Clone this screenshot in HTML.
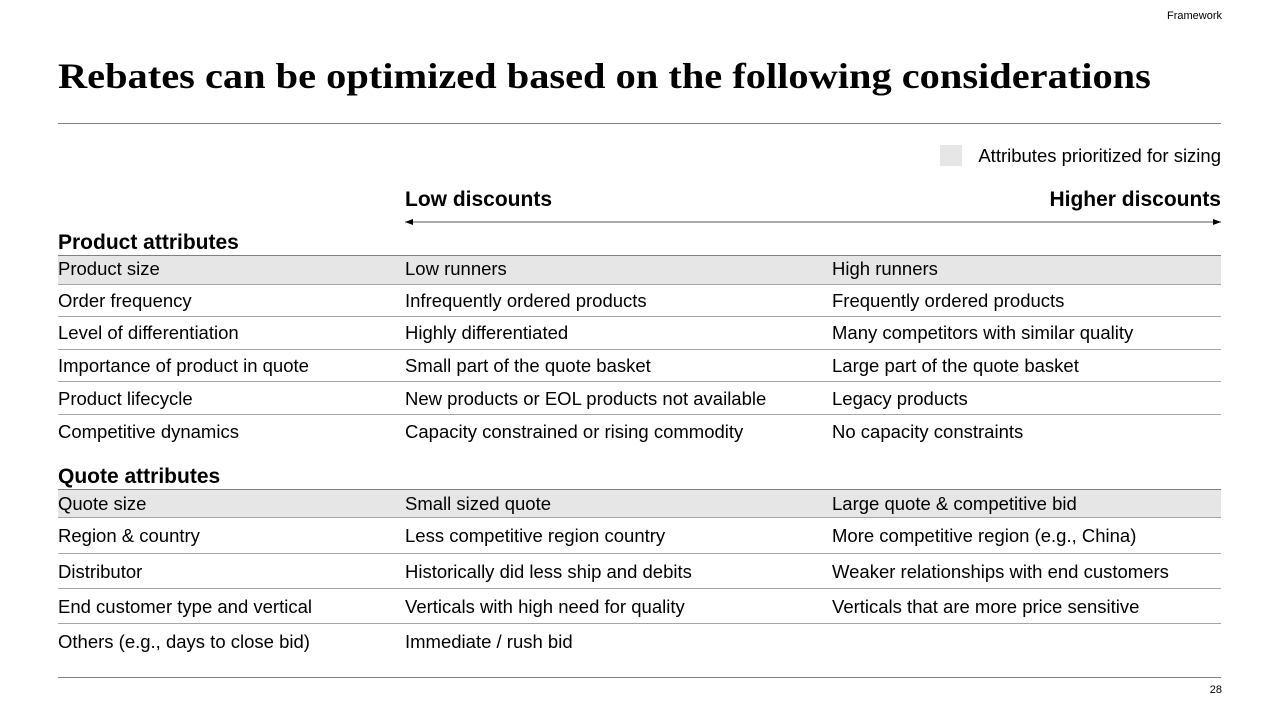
<!DOCTYPE html>
<html><head><meta charset="utf-8"><style>
body{margin:0;width:1280px;height:720px;background:#fff;position:relative;overflow:hidden;font-family:"Liberation Sans",sans-serif;color:#000}
.a{position:absolute;white-space:nowrap}
.t{font-size:18.5px;line-height:20px}
.h{font-size:21px;font-weight:bold;line-height:22px}
.ln{position:absolute;left:58px;width:1163px;height:1px;background:#a6a6a6}
.sh{position:absolute;left:58px;width:1163px;background:#e6e6e6}
</style></head><body>
<div class="a" style="right:58px;top:10px;font-size:11px">Framework</div>
<div class="a" style="left:58px;top:54px;font-family:'Liberation Serif',serif;font-weight:bold;font-size:36px;line-height:44px;transform:scaleX(1.122);transform-origin:0 0">Rebates can be optimized based on the following considerations</div>
<div class="ln" style="top:123px;background:#808080"></div>
<div class="a" style="left:940px;top:145px;width:22px;height:21px;background:#e6e6e6"></div>
<div class="a t" style="right:59px;top:146px">Attributes prioritized for sizing</div>
<div class="a h" style="left:405px;top:189px">Low discounts</div>
<div class="a h" style="right:59px;top:189px">Higher discounts</div>
<svg class="a" style="left:400px;top:215px" width="826" height="14"><line x1="5" y1="7" x2="821" y2="7" stroke="#555" stroke-width="1"/><polygon points="5,7 13,4 13,10" fill="#000"/><polygon points="821,7 813,4 813,10" fill="#000"/></svg>

<div class="a h" style="left:58px;top:232px">Product attributes</div>
<div class="sh" style="top:256px;height:28px"></div>
<div class="ln" style="top:255px;background:#808080"></div>
<div class="ln" style="top:284px"></div><div class="ln" style="top:316px"></div><div class="ln" style="top:349px"></div><div class="ln" style="top:381px"></div><div class="ln" style="top:414px"></div>
<div class="a t" style="left:58px;top:259px">Product size</div><div class="a t" style="left:405px;top:259px">Low runners</div><div class="a t" style="left:832px;top:259px">High runners</div>
<div class="a t" style="left:58px;top:291px">Order frequency</div><div class="a t" style="left:405px;top:291px">Infrequently ordered products</div><div class="a t" style="left:832px;top:291px">Frequently ordered products</div>
<div class="a t" style="left:58px;top:323px">Level of differentiation</div><div class="a t" style="left:405px;top:323px">Highly differentiated</div><div class="a t" style="left:832px;top:323px">Many competitors with similar quality</div>
<div class="a t" style="left:58px;top:356px">Importance of product in quote</div><div class="a t" style="left:405px;top:356px">Small part of the quote basket</div><div class="a t" style="left:832px;top:356px">Large part of the quote basket</div>
<div class="a t" style="left:58px;top:389px">Product lifecycle</div><div class="a t" style="left:405px;top:389px">New products or EOL products not available</div><div class="a t" style="left:832px;top:389px">Legacy products</div>
<div class="a t" style="left:58px;top:422px">Competitive dynamics</div><div class="a t" style="left:405px;top:422px">Capacity constrained or rising commodity</div><div class="a t" style="left:832px;top:422px">No capacity constraints</div>

<div class="a h" style="left:58px;top:466px">Quote attributes</div>
<div class="sh" style="top:490px;height:27px"></div>
<div class="ln" style="top:489px;background:#808080"></div>
<div class="ln" style="top:517px"></div><div class="ln" style="top:553px"></div><div class="ln" style="top:588px"></div><div class="ln" style="top:623px"></div>
<div class="a t" style="left:58px;top:494px">Quote size</div><div class="a t" style="left:405px;top:494px">Small sized quote</div><div class="a t" style="left:832px;top:494px">Large quote &amp; competitive bid</div>
<div class="a t" style="left:58px;top:526px">Region &amp; country</div><div class="a t" style="left:405px;top:526px">Less competitive region country</div><div class="a t" style="left:832px;top:526px">More competitive region (e.g., China)</div>
<div class="a t" style="left:58px;top:562px">Distributor</div><div class="a t" style="left:405px;top:562px">Historically did less ship and debits</div><div class="a t" style="left:832px;top:562px">Weaker relationships with end customers</div>
<div class="a t" style="left:58px;top:597px">End customer type and vertical</div><div class="a t" style="left:405px;top:597px">Verticals with high need for quality</div><div class="a t" style="left:832px;top:597px">Verticals that are more price sensitive</div>
<div class="a t" style="left:58px;top:632px">Others (e.g., days to close bid)</div><div class="a t" style="left:405px;top:632px">Immediate / rush bid</div>

<div class="ln" style="top:677px;background:#808080"></div>
<div class="a" style="right:58px;top:684px;font-size:11px">28</div>
</body></html>
